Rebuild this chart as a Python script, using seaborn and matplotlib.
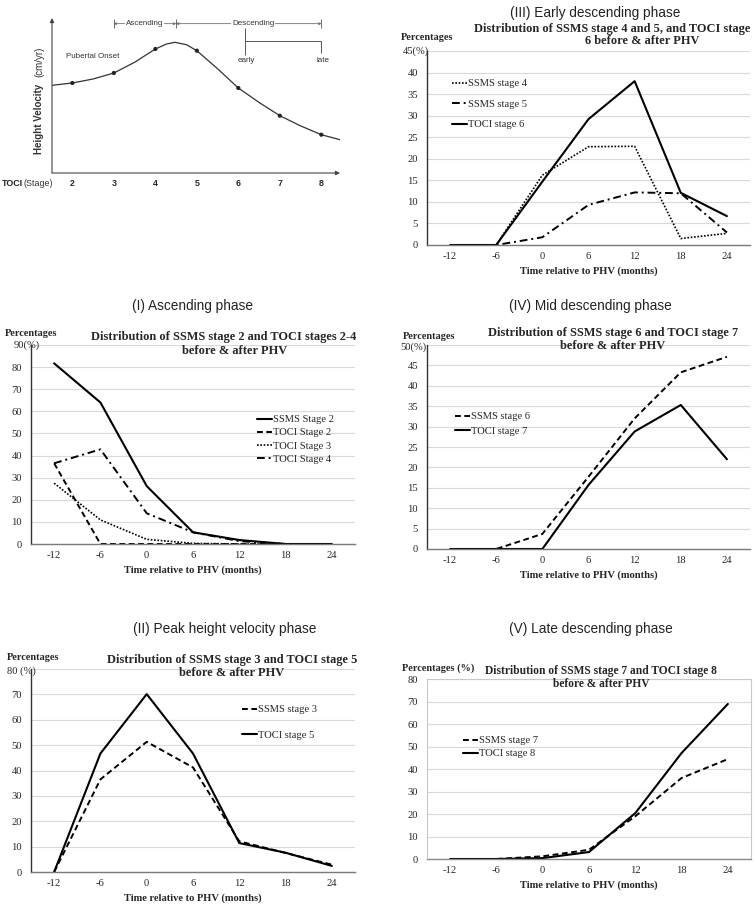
import numpy as np
import matplotlib
matplotlib.use("Agg")
import matplotlib.pyplot as plt
import seaborn as sns

sns.set_style("white")
SERIF = "Liberation Serif"
SANS = "Liberation Sans"
plt.rcParams["font.family"] = [SERIF, "DejaVu Serif"]

W, H = 756, 905

# ---------------- data ----------------
times = [-12, -6, 0, 6, 12, 18, 24]

# schematic (TOCI stage vs height velocity, arbitrary units)
stages = [2, 3, 4, 5, 6, 7, 8]
stage_velocity = [90, 100, 124, 122.3, 85, 57.3, 38.3]
curve_stage = [1.51, 2.0, 2.5, 3.0, 3.5, 4.0, 4.27, 4.47, 4.75, 5.0, 5.48, 6.0, 6.52, 7.0, 7.49, 8.0, 8.45]
curve_velocity = [87.7, 90, 94, 100, 110.7, 124, 129, 130.7, 128.3, 122.3, 105, 85, 70, 57.3, 47.3, 38.3, 33.3]
phase_bounds = [3, 4.5, 8]
early_late = [6.15, 8]

# Panel I
ssms2 = [81.7, 64, 26.2, 5.3, 1.8, 0, 0]
toci2 = [36.5, 0, 0, 0, 0, 0, 0]
toci3 = [27.5, 10.9, 2.1, 0.3, 0, 0, 0]
toci4 = [36.5, 42.8, 13.9, 5.3, 1.3, 0, 0]
# Panel II
ssms3 = [0, 36.5, 51.3, 41.2, 12.1, 7.5, 2.9]
toci5 = [0, 46.7, 70.1, 46.7, 11.4, 7.6, 2.4]
# Panel III
ssms4 = [0, 0, 16.2, 22.8, 22.9, 1.5, 2.7]
ssms5 = [0, 0, 1.8, 9.3, 12.2, 12.0, 2.9]
toci6 = [0, 0, 14.7, 29.2, 38.0, 12.1, 6.7]
# Panel IV
ssms6 = [0, 0, 3.7, 17.7, 32.0, 43.3, 47.1]
toci7 = [0, 0, 0, 15.7, 28.8, 35.3, 22.0]
# Panel V
ssms7 = [0, 0, 1.2, 4.1, 19.0, 36.0, 44.4]
toci8 = [0, 0, 0.4, 3.1, 20.4, 47.1, 68.9]

styles = {
    "solid": dict(linestyle="-", linewidth=1.5),
    "dash": dict(linestyle=(0, (3, 1.8)), linewidth=1.4),
    "dot": dict(linestyle=(0, (1, 1)), linewidth=1.2),
    "dashdot": dict(linestyle=(0, (4, 2, 1, 2)), linewidth=1.4),
}

fig = plt.figure(figsize=(W / 100, H / 100), dpi=100)


def ftext(x, y, s, **kw):
    return fig.text(x / W, 1 - y / H, s, **kw)


def draw_panel(rect, series, ymax, ystep, header, header_c, t1, t1c, t2, t2c,
               pct, pct_xy, top_txt, top_xy, leg_xy, leg_sp, boxed=False, tsize=8.9):
    l, t, r, b = rect
    ax = fig.add_axes([l / W, 1 - b / H, (r - l) / W, (b - t) / H])
    for name, vals, st in series:
        sns.lineplot(x=times, y=vals, ax=ax, color="black", label=name, **styles[st])
    ax.set_xlim(-15, 27)
    ax.set_ylim(0, ymax)
    yt = np.arange(0, ymax + 0.01, ystep)
    ax.set_yticks(yt)
    labs = [f"{int(v)}" for v in yt]
    if top_txt:
        labs[-1] = ""
    ax.set_yticklabels(labs)
    ax.set_xticks(times)
    ax.set_xticklabels([str(v) for v in times])
    ax.tick_params(axis="y", length=0, labelsize=7.6, pad=6.5)
    ax.tick_params(axis="x", length=0, labelsize=7.6, pad=5)
    ax.grid(axis="y", color="#d9d9d9", lw=0.8)
    ax.grid(axis="x", visible=False)
    ax.set_axisbelow(True)
    ax.set_xlabel("Time relative to PHV (months)", fontsize=7.6, fontweight="bold", labelpad=4)
    ax.set_ylabel("")
    if boxed:
        for s in ["top", "right", "left"]:
            ax.spines[s].set_color("#c8c8c8")
            ax.spines[s].set_linewidth(0.8)
        ax.spines["bottom"].set_color("#8a8a8a")
        ax.spines["bottom"].set_linewidth(1.0)
    else:
        ax.spines["top"].set_visible(False)
        ax.spines["right"].set_visible(False)
        ax.spines["left"].set_color("#333333")
        ax.spines["left"].set_linewidth(1.0)
        ax.spines["bottom"].set_color("#7a7a7a")
        ax.spines["bottom"].set_linewidth(1.0)
    h, lb = ax.get_legend_handles_labels()
    ax.legend(h, lb, loc="upper left", bbox_to_anchor=(leg_xy[0] / W, 1 - leg_xy[1] / H),
              bbox_transform=fig.transFigure, frameon=False, fontsize=7.6,
              handlelength=1.45, handletextpad=0.1, borderpad=0, borderaxespad=0,
              labelspacing=leg_sp)
    ftext(header_c[0], header_c[1], header, family=[SANS], fontsize=9.8,
          ha="center", va="center", color="#222222")
    ftext(t1c[0], t1c[1], t1, fontsize=tsize, fontweight="bold", ha="center", va="center")
    ftext(t2c[0], t2c[1], t2, fontsize=tsize, fontweight="bold", ha="center", va="center")
    ftext(pct_xy[0], pct_xy[1], pct, fontsize=7.4, fontweight="bold", ha="left", va="center")
    if top_txt:
        ftext(top_xy[0], top_xy[1], top_txt, fontsize=7.6, ha="left", va="center")
    return ax


# ---------------- schematic ----------------
ax0 = fig.add_axes([52 / W, 1 - 173 / H, (340 - 52) / W, (173 - 18) / H])
sns.lineplot(x=curve_stage, y=curve_velocity, ax=ax0, sort=False, color="#333333", lw=0.9)
sns.scatterplot(x=stages, y=stage_velocity, ax=ax0, color="#222222", s=9, edgecolor="none", zorder=3)
ax0.set_xlim(1.51, 8.45)
ax0.set_ylim(0, 155)
for s in ax0.spines.values():
    s.set_visible(False)
ax0.set_yticks([])
ax0.set_xticks(stages)
ax0.set_xticklabels([str(s) for s in stages], family=[SANS], fontweight="bold", fontsize=6.4)
ax0.tick_params(axis="x", length=0, pad=4)
ax0.annotate("", xy=(0, 1.0), xytext=(0, 0), xycoords="axes fraction",
             arrowprops=dict(arrowstyle="-|>", lw=0.8, color="#444444", mutation_scale=6,
                             shrinkA=0, shrinkB=0))
ax0.annotate("", xy=(1.0, 0), xytext=(0, 0), xycoords="axes fraction",
             arrowprops=dict(arrowstyle="-|>", lw=0.8, color="#444444", mutation_scale=6,
                             shrinkA=0, shrinkB=0))
yb = 149.3
for a, bnd in [(phase_bounds[0], phase_bounds[1]), (phase_bounds[1], phase_bounds[2])]:
    ax0.annotate("", xy=(a, yb), xytext=(bnd, yb), xycoords="data",
                 arrowprops=dict(arrowstyle="<->", lw=0.5, color="#555555",
                                 mutation_scale=4, shrinkA=0, shrinkB=0),
                 annotation_clip=False)
ax0.vlines(phase_bounds, yb - 4.5, yb + 4.5, color="#555555", lw=0.6, clip_on=False)
ax0.text(3.75, yb, "Ascending", family=[SANS], fontsize=5.8, ha="center", va="center",
         color="#333333", bbox=dict(facecolor="white", edgecolor="none", pad=0.6), clip_on=False)
ax0.text(6.36, yb, "Descending", family=[SANS], fontsize=5.8, ha="center", va="center",
         color="#333333", bbox=dict(facecolor="white", edgecolor="none", pad=0.6), clip_on=False)
ax0.vlines([early_late[0]], 118, 145, color="#555555", lw=0.7)
ax0.hlines([131.7], early_late[0], early_late[1], color="#555555", lw=0.7)
ax0.vlines([early_late[1]], 120, 131.7, color="#555555", lw=0.7)
ax0.text(6.2, 113, "early", family=[SANS], fontsize=5.8, ha="center", va="center", color="#333333")
ax0.text(8.03, 113, "late", family=[SANS], fontsize=5.8, ha="center", va="center", color="#333333")
ax0.text(2.5, 116.7, "Pubertal Onset", family=[SANS], fontsize=5.8, ha="center", va="center",
         color="#333333")
ftext(39, 119, "Height Velocity", family=[SANS], fontsize=7.0, fontweight="bold",
      rotation=90, ha="center", va="center", color="#333333")
ftext(39, 62, "(cm/yr)", family=[SANS], fontsize=7.0, rotation=90, ha="center", va="center",
      color="#333333")
ftext(2, 183, "TOCI", family=[SANS], fontsize=6.4, fontweight="bold", ha="left", va="center",
      color="#222222")
ftext(23, 183, "(Stage)", family=[SANS], fontsize=6.4, ha="left", va="center", color="#333333")

# ---------------- panels ----------------
draw_panel((427, 51, 750, 245),
           [("SSMS stage 4", ssms4, "dot"), ("SSMS stage 5", ssms5, "dashdot"),
            ("TOCI stage 6", toci6, "solid")],
           45, 5, "(III) Early descending phase", (595, 13),
           "Distribution of SSMS stage 4 and 5, and TOCI stage", (612, 29),
           "6 before & after PHV", (642, 41),
           "Percentages", (401, 38), "45(%)", (403, 51), (452, 79), 1.05)

draw_panel((31, 345, 355, 544),
           [("SSMS Stage 2", ssms2, "solid"), ("TOCI Stage 2", toci2, "dash"),
            ("TOCI Stage 3", toci3, "dot"), ("TOCI Stage 4", toci4, "dashdot")],
           90, 10, "(I) Ascending phase", (193, 306),
           "Distribution of SSMS stage 2 and TOCI stages 2-4", (224, 337),
           "before & after PHV", (235, 351),
           "Percentages", (5, 333), "90(%)", (14, 345), (257, 415), 0.35)

draw_panel((427, 345, 750, 549),
           [("SSMS stage 6", ssms6, "dash"), ("TOCI stage 7", toci7, "solid")],
           50, 5, "(IV) Mid descending phase", (590, 306),
           "Distribution of SSMS stage 6 and TOCI stage 7", (613, 333),
           "before & after PHV", (613, 346),
           "Percentages", (403, 336), "50(%)", (400, 347), (455, 412), 0.5)

draw_panel((31, 669, 355, 872),
           [("SSMS stage 3", ssms3, "dash"), ("TOCI stage 5", toci5, "solid")],
           80, 10, "(II) Peak height velocity phase", (225, 629),
           "Distribution of SSMS stage 3 and TOCI stage 5", (232, 660),
           "before & after PHV", (232, 673),
           "Percentages", (7, 657), "80 (%)", (7, 671), (242, 705), 1.5)

draw_panel((427, 679, 751, 859),
           [("SSMS stage 7", ssms7, "dash"), ("TOCI stage 8", toci8, "solid")],
           80, 10, "(V) Late descending phase", (591, 629),
           "Distribution of SSMS stage 7 and TOCI stage 8", (601, 671),
           "before & after PHV", (601, 684),
           "Percentages (%)", (402, 668), None, None, (463, 736), 0.35, boxed=True, tsize=8.3)

fig.savefig("out.png", dpi=100)
